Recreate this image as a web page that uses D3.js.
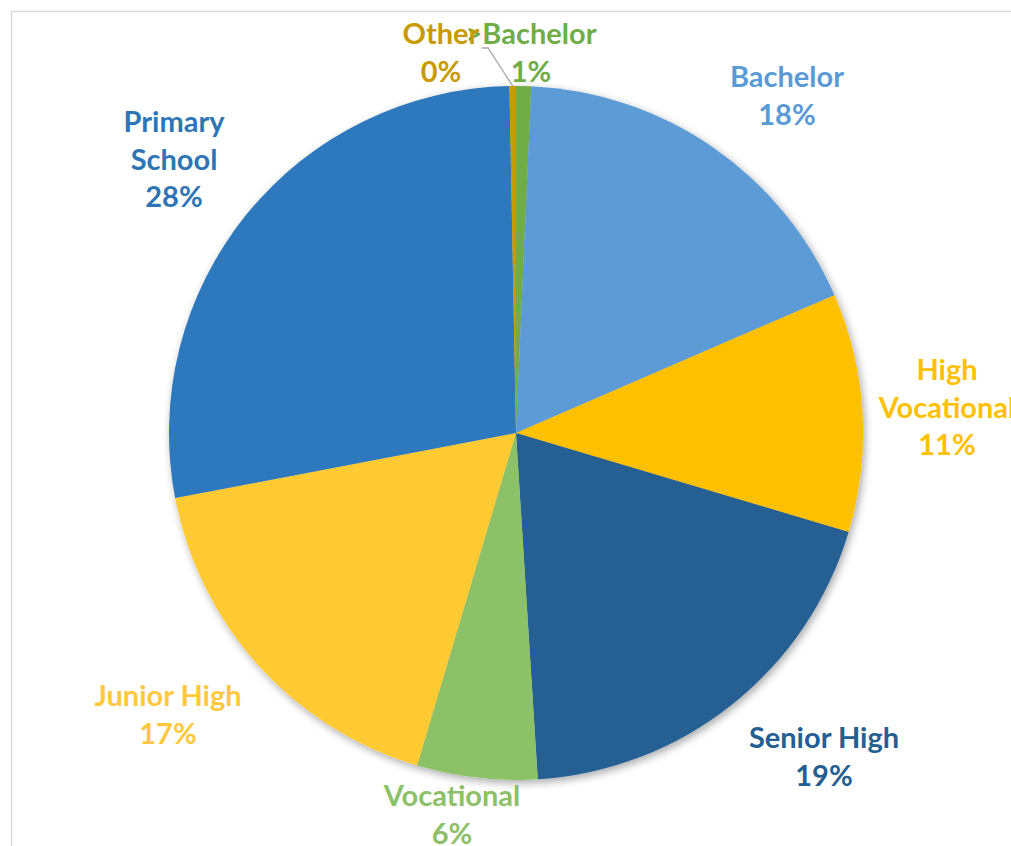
<!DOCTYPE html>
<html>
<head>
<meta charset="utf-8">
<script src="https://cdn.jsdelivr.net/npm/d3@7"></script>
<style>
  html, body { margin: 0; padding: 0; background: #ffffff; }
  svg { display: block; }
</style>
</head>
<body>
<svg id="chart" width="1011" height="846"></svg>
<script>
// Education level shares (percent), clockwise from 12 o'clock
const categories = [">Bachelor", "Bachelor", "High Vocational", "Senior High", "Vocational", "Junior High", "Primary School", "Other"];
const shares = [0.7, 17.8, 11.1, 19.4, 5.6, 17.4, 27.7, 0.3];
const sliceColors = ["#70AD47", "#5B9BD5", "#FFC000", "#255E91", "#8CC168", "#FFCA33", "#2E78BE", "#C99A00"];
const labelColors = ["#70AD47", "#5B9BD5", "#FFC000", "#255E91", "#8CC168", "#FFC83D", "#2E75B6", "#C99A00"];
// label text lines (name split over lines) and anchor for each
const labelLines = [[">Bachelor"], ["Bachelor"], ["High", "Vocational"], ["Senior High"], ["Vocational"], ["Junior High"], ["Primary", "School"], ["Other"]];
const labelAnchors = [[531, 44], [787, 87], [947, 380], [824, 748], [452, 806], [168, 706], [174, 132], [441, 44]];

const svg = d3.select("#chart");
const cx = 516, cy = 433, radius = 347;
const lineGap = 37.5;

// chart area frame
svg.append("rect")
  .attr("x", 11.5).attr("y", 11.5)
  .attr("width", 1011).attr("height", 846)
  .attr("fill", "none")
  .attr("stroke", "#d9d9d9")
  .attr("stroke-width", 1.5);

const defs = svg.append("defs");
const shadow = defs.append("filter").attr("id", "pieShadow")
  .attr("x", "-10%").attr("y", "-10%").attr("width", "120%").attr("height", "120%");
shadow.append("feGaussianBlur").attr("in", "SourceAlpha").attr("stdDeviation", 4).attr("result", "blur");
shadow.append("feOffset").attr("in", "blur").attr("dx", 2).attr("dy", 3).attr("result", "off");
shadow.append("feComponentTransfer").attr("in", "off").attr("result", "soft")
  .append("feFuncA").attr("type", "linear").attr("slope", 0.35);
const merge = shadow.append("feMerge");
merge.append("feMergeNode").attr("in", "soft");
merge.append("feMergeNode").attr("in", "SourceGraphic");

const data = categories.map((c, i) => ({ name: c, value: shares[i], i }));
const pie = d3.pie().sort(null).value(d => d.value).startAngle(0).endAngle(2 * Math.PI);
const arcs = pie(data);
const arc = d3.arc().innerRadius(0).outerRadius(radius);

const g = svg.append("g").attr("transform", `translate(${cx},${cy})`);
g.append("g").attr("filter", "url(#pieShadow)")
  .selectAll("path")
  .data(arcs)
  .join("path")
  .attr("d", arc)
  .attr("fill", d => sliceColors[d.data.i]);

// leader line for the tiny "Other" slice
const other = arcs[7];
const mid = (other.startAngle + other.endAngle) / 2;
const ex = cx + Math.sin(mid) * radius, ey = cy - Math.cos(mid) * radius;
svg.append("path")
  .attr("d", d3.line()([[482, 48], [488, 48], [ex, ey]]))
  .attr("fill", "none")
  .attr("stroke", "#a6a6a6")
  .attr("stroke-width", 1.3);

// labels: name lines + rounded percentage
const fmt = v => Math.round(v) + "%";
data.forEach((d, i) => {
  const [lx, ly] = labelAnchors[i];
  const lines = labelLines[i].concat([fmt(d.value)]);
  const t = svg.append("text")
    .attr("text-anchor", "middle")
    .attr("font-family", "Lato, 'Open Sans', sans-serif")
    .attr("font-weight", "bold")
    .attr("font-size", 29)
    .attr("fill", labelColors[i]);
  lines.forEach((ln, k) => {
    t.append("tspan").attr("x", lx).attr("y", ly + k * lineGap).text(ln);
  });
});
</script>
</body>
</html>
